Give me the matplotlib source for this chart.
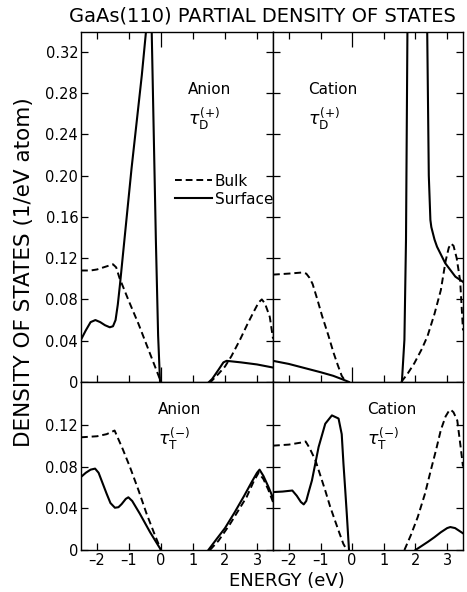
import numpy as np
import matplotlib
matplotlib.use('Agg')
import matplotlib.pyplot as plt
from matplotlib import rcParams

rcParams['font.family'] = ['DejaVu Sans']
rcParams['axes.linewidth'] = 1.0
rcParams['mathtext.fontset'] = 'dejavusans'

nan = np.nan

# ---- data (energy in eV, DOS in 1/eV atom); nan = gap where the curve lies on the axis ----
# anion, tau_D(+)
an_d_bulk_x = [-2.5, -2.2, -2.0, -1.8, -1.6, -1.5, -1.4, -1.3, -1.0, -0.7, -0.4, -0.15, 0.0, nan,
               1.5, 1.55, 1.8, 2.0, 2.2, 2.47, 2.7, 2.88, 3.05, 3.15, 3.25, 3.4, 3.5]
an_d_bulk_y = [0.108, 0.108, 0.109, 0.111, 0.113, 0.114, 0.111, 0.101, 0.078, 0.056, 0.032, 0.012, 0.0, nan,
               0.0, 0.0, 0.008, 0.015, 0.025, 0.041, 0.056, 0.067, 0.077, 0.080, 0.076, 0.063, 0.042]
an_d_surf_x = [-2.5, -2.35, -2.2, -2.05, -1.9, -1.75, -1.6, -1.5, -1.42, -1.35, -1.28, -1.2, -0.92, -0.6,
               -0.47, -0.38, -0.29, -0.16, -0.09, -0.03, 0.0, nan, 1.5, 1.6, 1.8, 1.95, 2.05, 2.5, 3.0, 3.5]
an_d_surf_y = [0.041, 0.050, 0.058, 0.060, 0.058, 0.055, 0.053, 0.054, 0.060, 0.075, 0.095, 0.120, 0.207, 0.297,
               0.339, 0.40, 0.339, 0.137, 0.045, 0.0, 0.0, nan, 0.0, 0.003, 0.012, 0.019, 0.0205, 0.019, 0.017, 0.014]

# cation, tau_D(+)
ca_d_bulk_x = [-2.5, -2.0, -1.6, -1.45, -1.35, -1.25, -1.1, -0.95, -0.75, -0.59, -0.45, -0.33, -0.2, nan,
               1.55, 1.75, 1.96, 2.2, 2.38, 2.6, 2.8, 2.95, 3.05, 3.12, 3.2, 3.3, 3.41, 3.5]
ca_d_bulk_y = [0.104, 0.105, 0.106, 0.105, 0.101, 0.095, 0.080, 0.064, 0.045, 0.0285, 0.016, 0.006, 0.0, nan,
               0.0, 0.008, 0.018, 0.032, 0.0445, 0.066, 0.089, 0.117, 0.130, 0.134, 0.132, 0.120, 0.098, 0.05]
ca_d_surf_x = [-2.5, -2.0, -1.5, -1.0, -0.6, -0.3, -0.1, nan, 1.57, 1.65, 1.70, 1.745, 1.76, 2.35, 2.37,
               2.42, 2.47, 2.5, 2.6, 2.68, 2.94, 3.26, 3.5]
ca_d_surf_y = [0.0205, 0.0175, 0.0135, 0.0095, 0.006, 0.0025, 0.0, nan, 0.0, 0.041, 0.138, 0.339, 0.36, 0.36, 0.339,
               0.20, 0.157, 0.150, 0.138, 0.131, 0.115, 0.102, 0.097]

# anion, tau_T(-)
an_t_bulk_x = [-2.5, -2.0, -1.7, -1.45, -1.2, -0.97, -0.7, -0.45, -0.2, 0.0, nan,
               1.53, 1.8, 2.16, 2.4, 2.68, 2.9, 3.05, 3.2, 3.35, 3.5]
an_t_bulk_y = [0.108, 0.109, 0.111, 0.1145, 0.097, 0.0795, 0.057, 0.0347, 0.015, 0.0, nan,
               0.0, 0.009, 0.025, 0.037, 0.051, 0.066, 0.074, 0.068, 0.058, 0.046]
an_t_surf_x = [-2.5, -2.35, -2.2, -2.06, -1.95, -1.85, -1.7, -1.58, -1.44, -1.33, -1.23, -1.1, -1.02, -0.9,
               -0.66, -0.34, 0.0, nan, 1.48, 1.75, 2.0, 2.3, 2.6, 2.85, 3.0, 3.08, 3.2, 3.35, 3.5]
an_t_surf_y = [0.070, 0.074, 0.077, 0.078, 0.074, 0.066, 0.054, 0.045, 0.0405, 0.041, 0.044, 0.049, 0.0505, 0.047,
               0.0347, 0.017, 0.0, nan, 0.0, 0.011, 0.021, 0.036, 0.052, 0.066, 0.074, 0.077, 0.071, 0.061, 0.050]

# cation, tau_T(-)
ca_t_bulk_x = [-2.5, -2.0, -1.6, -1.47, -1.35, -1.16, -1.0, -0.85, -0.7, -0.54, -0.4, -0.28, -0.17, nan,
               1.65, 1.85, 2.07, 2.3, 2.48, 2.65, 2.8, 2.95, 3.05, 3.11, 3.2, 3.32, 3.42, 3.5]
ca_t_bulk_y = [0.100, 0.101, 0.103, 0.104, 0.098, 0.086, 0.071, 0.057, 0.042, 0.028, 0.016, 0.006, 0.0, nan,
               0.0, 0.014, 0.0315, 0.054, 0.076, 0.096, 0.115, 0.128, 0.133, 0.1345, 0.132, 0.124, 0.100, 0.080]
ca_t_surf_x = [-2.5, -2.2, -1.89, -1.75, -1.62, -1.53, -1.45, -1.37, -1.27, -1.06, -0.85, -0.64, -0.43,
               -0.33, -0.275, -0.22, -0.17, -0.1, nan, 2.0, 2.2, 2.4, 2.6, 2.8, 3.0, 3.1, 3.25, 3.5]
ca_t_surf_y = [0.0555, 0.056, 0.057, 0.052, 0.046, 0.0437, 0.047, 0.056, 0.0667, 0.0987, 0.121, 0.129, 0.126,
               0.111, 0.0827, 0.058, 0.0347, 0.0, nan, 0.0, 0.004, 0.008, 0.0123, 0.017, 0.021, 0.022, 0.021, 0.016]

top_yticks = [0, 0.04, 0.08, 0.12, 0.16, 0.20, 0.24, 0.28, 0.32]
bot_yticks = [0, 0.04, 0.08, 0.12]
energy_ticks = [-2, -1, 0, 1, 2, 3]

W, H = 467, 592
fig = plt.figure(figsize=(W / 100, H / 100), dpi=100)


def px_rect(x0, y0, x1, y1):
    return [x0 / W, 1 - y1 / H, (x1 - x0) / W, (y1 - y0) / H]


ax_tl = fig.add_axes(px_rect(81, 32, 273, 382))
ax_tr = fig.add_axes(px_rect(273, 32, 463, 382))
ax_bl = fig.add_axes(px_rect(81, 382, 273, 550))
ax_br = fig.add_axes(px_rect(273, 382, 463, 550))

panels = [
    (ax_tl, an_d_bulk_x, an_d_bulk_y, an_d_surf_x, an_d_surf_y),
    (ax_tr, ca_d_bulk_x, ca_d_bulk_y, ca_d_surf_x, ca_d_surf_y),
    (ax_bl, an_t_bulk_x, an_t_bulk_y, an_t_surf_x, an_t_surf_y),
    (ax_br, ca_t_bulk_x, ca_t_bulk_y, ca_t_surf_x, ca_t_surf_y),
]
for ax, bx, by, sx, sy in panels:
    ax.plot(bx, by, color='black', lw=1.4, dashes=(3.5, 2.0), label='Bulk')
    ax.plot(sx, sy, color='black', lw=1.5, label='Surface')
    ax.set_xlim(-2.5, 3.5)
    ax.tick_params(axis='y', direction='in', left=True, right=True, length=5, width=0.9,
                   labelsize=10.5, pad=2)
    ax.tick_params(axis='x', direction='in', width=0.9, labelsize=10.5)

fmt = lambda v: '0' if v == 0 else f'{v:.2f}'

for ax in (ax_tl, ax_tr):
    ax.set_ylim(0, 0.339)
    ax.set_yticks(top_yticks)
    ax.set_xticks([t for t in energy_ticks if t != 0])
    ax.set_xticks([0], minor=True)
    ax.tick_params(axis='x', which='both', top=True, bottom=True, labelbottom=False)
    ax.tick_params(axis='x', which='major', length=5)
    ax.tick_params(axis='x', which='minor', length=11, width=0.9, direction='in')

for ax in (ax_bl, ax_br):
    ax.set_ylim(0, 0.161)
    ax.set_yticks(bot_yticks)
    ax.set_xticks(energy_ticks)
    ax.set_xticklabels([str(t).replace('-', '\u2013') if t < 0 else str(t) for t in energy_ticks])
    ax.tick_params(axis='x', top=False, bottom=True, length=5, pad=2)

ax_tl.set_yticklabels([fmt(v) for v in top_yticks])
ax_bl.set_yticklabels([fmt(v) for v in bot_yticks])
ax_tr.set_yticklabels([])
ax_br.set_yticklabels([])

# legend in the upper-left panel
ax_tl.legend(loc='upper left', bbox_to_anchor=(0.49, 0.595), frameon=False, fontsize=11,
             handlelength=2.4, handletextpad=0.2, borderpad=0, borderaxespad=0, labelspacing=0.2)


def ftext(x, y, s, **kw):
    fig.text(x / W, 1 - y / H, s, **kw)


ftext(262, 16, 'GaAs(110) PARTIAL DENSITY OF STATES', fontsize=14, ha='center', va='center')
ftext(24, 272, 'DENSITY OF STATES (1/eV atom)', fontsize=15.5, ha='center', va='center', rotation=90)
ftext(287, 581, 'ENERGY (eV)', fontsize=13, ha='center', va='center')

ftext(188, 89, 'Anion', fontsize=11, ha='left', va='center')
ftext(188, 119, r'$\tau_{\mathrm{D}}^{(+)}$', fontsize=12.5, ha='left', va='center')
ftext(308, 89, 'Cation', fontsize=11, ha='left', va='center')
ftext(308, 119, r'$\tau_{\mathrm{D}}^{(+)}$', fontsize=12.5, ha='left', va='center')
ftext(158, 409, 'Anion', fontsize=11, ha='left', va='center')
ftext(158, 439, r'$\tau_{\mathrm{T}}^{(-)}$', fontsize=12.5, ha='left', va='center')
ftext(367, 410, 'Cation', fontsize=11, ha='left', va='center')
ftext(367, 439, r'$\tau_{\mathrm{T}}^{(-)}$', fontsize=12.5, ha='left', va='center')

fig.savefig('out.png', dpi=100, facecolor='white')
